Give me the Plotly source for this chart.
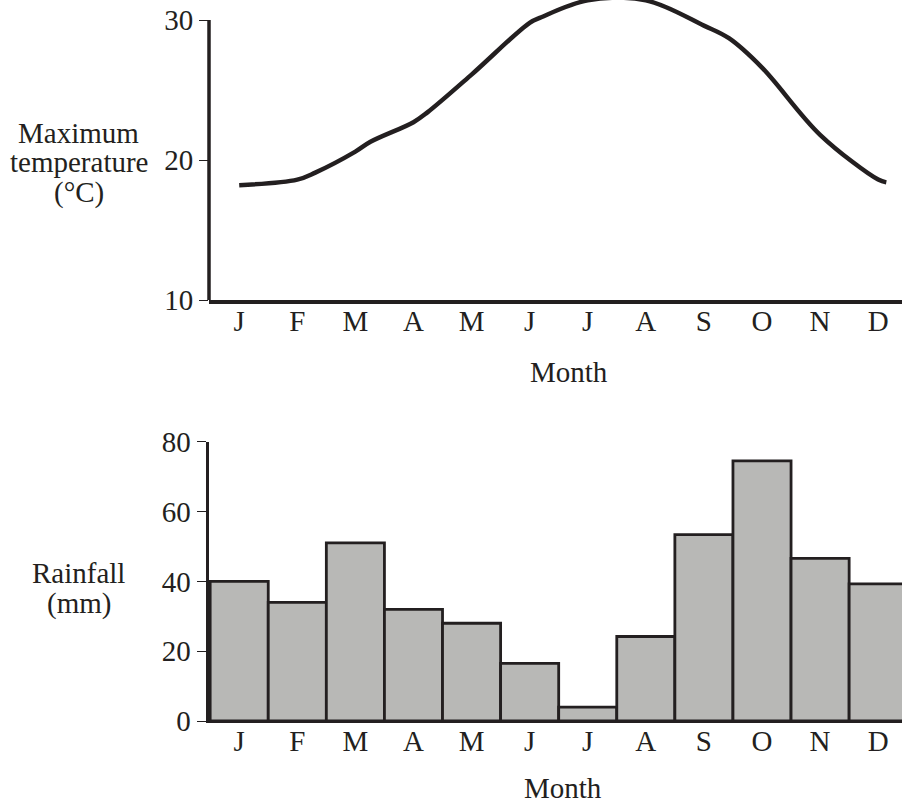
import plotly.graph_objects as go
from plotly.subplots import make_subplots

months = ["J", "F", "M", "A", "M", "J", "J", "A", "S", "O", "N", "D"]
month_idx = list(range(12))

# Temperature curve (x in month index units, value in °C)
temp_x = [0, 1, 1.31, 2, 2.26, 3, 3.24, 4, 5, 5.2, 6, 7, 8, 8.43, 9, 10, 11, 11.14]
temp_y = [18.2, 18.6, 19.1, 20.6, 21.3, 22.7, 23.4, 26.1, 29.8, 30.2, 31.4, 31.4,
          29.6, 28.7, 26.6, 21.8, 18.6, 18.4]

rainfall = [40, 34, 51, 32, 28, 16.5, 4, 24.2, 53.4, 74.5, 46.6, 39.3]

temp_ticks = [10, 20, 30]
rain_ticks = [0, 20, 40, 60, 80]

INK = "#231f20"
BAR = "#b8b8b6"
FONT = "Liberation Serif"
FS = 29

W, H = 902, 804
ML, MB, MT = 209, 83, 0
PH = H - MB - MT  # plot area height in px


def py(p):
    return (PH - p) / PH


def px(p):
    return (p - ML) / (W - ML)


fig = make_subplots(rows=2, cols=1, shared_xaxes=False)

fig.add_trace(go.Scatter(x=temp_x, y=temp_y, mode="lines",
                         line=dict(color=INK, width=4.5, shape="spline", smoothing=1.0),
                         showlegend=False, hoverinfo="skip"), row=1, col=1)

fig.add_trace(go.Bar(x=month_idx, y=rainfall, marker=dict(color=BAR, line=dict(color=INK, width=2.8)),
                     showlegend=False, hoverinfo="skip"), row=2, col=1)

xr = [-0.52, 11.41]
common_x = dict(range=xr, tickmode="array", tickvals=month_idx, ticktext=months,
                showgrid=False, zeroline=False, ticks="", showline=True,
                linecolor=INK, automargin=False, ticklabelstandoff=-7,
                tickfont=dict(family=FONT, size=FS, color=INK))

fig.update_xaxes(**common_x, linewidth=3.5, domain=[0, 1], row=1, col=1)
fig.update_xaxes(**common_x, linewidth=2.2, domain=[0, 1], row=2, col=1)

fig.update_yaxes(range=[10, 10 + 300 / 14], tickmode="array", tickvals=temp_ticks,
                 showgrid=False, zeroline=False, showline=False, automargin=False,
                 ticks="outside", ticklen=9, tickwidth=1, tickcolor=INK,
                 tickfont=dict(family=FONT, size=FS, color=INK),
                 domain=[py(300), 1], row=1, col=1)
fig.update_yaxes(range=[0, 80], tickmode="array", tickvals=rain_ticks,
                 showgrid=False, zeroline=False, showline=True, linecolor=INK, linewidth=3.5,
                 automargin=False,
                 ticks="outside", ticklen=9, tickwidth=1, tickcolor=INK,
                 tickfont=dict(family=FONT, size=FS, color=INK),
                 domain=[0, py(441.7)], row=2, col=1)

# partial y axis line (only up to 30) in the top panel
fig.add_shape(type="line", xref="x domain", yref="y", x0=0, x1=0, y0=10, y1=30,
              line=dict(color=INK, width=3.5))

anns = [
    ("Maximum", 78.8, 133),
    ("temperature", 78.8, 162),
    ("(°C)", 78.8, 192),
    ("Rainfall", 78.8, 573),
    ("(mm)", 78.8, 603),
    ("Month", 569, 372),
    ("Month", 563, 788),
]
for t, x, y in anns:
    fig.add_annotation(text=t, x=px(x), y=py(y), xref="paper", yref="paper",
                       xanchor="center", yanchor="middle", showarrow=False,
                       font=dict(family=FONT, size=FS, color=INK))

fig.update_layout(template="none", width=W, height=H, margin=dict(l=ML, r=0, t=MT, b=MB, autoexpand=False),
                  paper_bgcolor="white", plot_bgcolor="white", bargap=0)

fig.write_html("out.html", config={"displayModeBar": False, "staticPlot": True},
               post_script="document.body.style.margin='0px';document.body.style.padding='0px';")
